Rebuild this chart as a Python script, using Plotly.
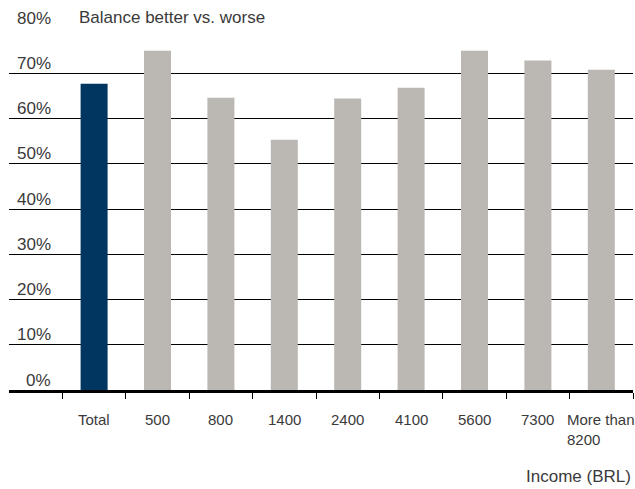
import plotly.graph_objects as go

# Share of respondents reporting a better vs. worse balance, by income band
categories = ["Total", "500", "800", "1400", "2400", "4100", "5600", "7300", "More than<br>8200"]
values = [67.7, 75.0, 64.6, 55.3, 64.4, 66.8, 75.0, 72.8, 70.8]
bar_colors = ["#00365F"] + ["#BBB7B3"] * 8
y_ticks = [0, 10, 20, 30, 40, 50, 60, 70, 80]
y_labels = [f"{v}%" for v in y_ticks]

FONT = "Liberation Sans, Arial, Helvetica, sans-serif"
TEXT = "#3a3a3a"

W, H = 635, 489
L, R, T, B = 9, 2, 28, 99
plot_w = W - L - R

fig = go.Figure(
    go.Bar(
        x=list(range(len(categories))),
        y=values,
        marker=dict(color=bar_colors, line=dict(width=0)),
        width=0.426,
        hoverinfo="skip",
    )
)

annotations = []
# category labels under the axis (multi-line label left-aligned inside its box)
for i, c in enumerate(categories):
    annotations.append(dict(
        x=i, y=0, xref="x", yref="y", text=c, showarrow=False,
        xanchor="center", yanchor="top", align="left", yshift=-19,
        font=dict(family=FONT, size=15, color=TEXT),
    ))
# percentage labels sitting on top of each gridline, right-aligned
label_right = (53 - L) / plot_w
for v, t in zip(y_ticks, y_labels):
    annotations.append(dict(
        x=label_right, y=v, xref="paper", yref="y", text=t, showarrow=False,
        xanchor="right", yanchor="bottom", yshift=-1.5,
        font=dict(family=FONT, size=17, color=TEXT),
    ))
# chart heading next to the top label
annotations.append(dict(
    x=(77 - L) / plot_w, y=80, xref="paper", yref="y", text="Balance better vs. worse",
    showarrow=False, xanchor="left", yanchor="bottom", yshift=-1.5,
    font=dict(family=FONT, size=17, color=TEXT),
))
# axis title at the bottom right
annotations.append(dict(
    x=1, y=-0.238, xref="paper", yref="paper", text="Income (BRL)",
    showarrow=False, xanchor="right", yanchor="middle",
    font=dict(family=FONT, size=17, color=TEXT),
))

cat_w = 63.4
n_extra = plot_w / cat_w - len(categories)

fig.update_layout(
    width=W, height=H,
    margin=dict(l=L, r=R, t=T, b=B, pad=0),
    paper_bgcolor="white", plot_bgcolor="white",
    showlegend=False,
    annotations=annotations,
    xaxis=dict(
        type="linear",
        range=[-0.5 - n_extra, len(categories) - 0.5],
        tickvals=[i - 0.5 for i in range(len(categories) + 1)],
        showticklabels=False,
        ticks="outside", ticklen=6, tickwidth=1.3, tickcolor="black",
        showgrid=False, zeroline=False,
        showline=True, linewidth=3, linecolor="black",
        fixedrange=True,
    ),
    yaxis=dict(
        range=[0, 80],
        tickvals=y_ticks,
        showticklabels=False,
        showgrid=True, gridcolor="black", gridwidth=1.2,
        zeroline=False, showline=False, ticks="",
        fixedrange=True,
    ),
)

fig.write_html("out.html", config=dict(displayModeBar=False))
